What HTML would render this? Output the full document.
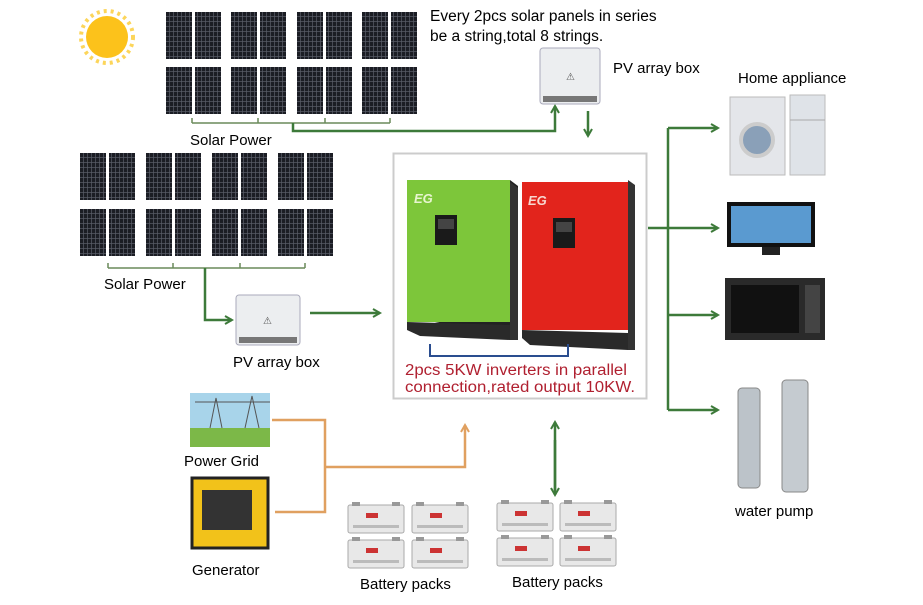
<!DOCTYPE html>
<html><head><meta charset="utf-8"><style>
body{margin:0;background:#fff}
svg{display:block}
text{font-family:"Liberation Sans",sans-serif}
</style></head><body>
<svg width="923" height="605" viewBox="0 0 923 605" xmlns="http://www.w3.org/2000/svg">
<defs>
<pattern id="cell" width="4" height="5" patternUnits="userSpaceOnUse">
<rect width="4" height="5" fill="#1b1d24"/><rect x="3.3" width="0.7" height="5" fill="#5a5e68"/><rect y="4.3" width="4" height="0.7" fill="#5a5e68"/>
</pattern>
<marker id="ag" markerWidth="10" markerHeight="10" refX="8" refY="5" orient="auto" markerUnits="userSpaceOnUse"><path d="M1,1 L8,5 L1,9" fill="none" stroke="#3d7a3a" stroke-width="2"/></marker>
<marker id="ao" markerWidth="10" markerHeight="10" refX="8" refY="5" orient="auto" markerUnits="userSpaceOnUse"><path d="M1,1 L8,5 L1,9" fill="none" stroke="#e0a060" stroke-width="2"/></marker>
<g id="pg"><rect width="26" height="47" fill="url(#cell)"/><rect x="29" width="26" height="47" fill="url(#cell)"/></g>
<g id="bat"><rect width="56" height="28" rx="2" fill="#e8e8e8" stroke="#aaa"/><rect x="4" y="-3" width="8" height="4" fill="#999"/><rect x="44" y="-3" width="8" height="4" fill="#999"/><rect x="18" y="8" width="12" height="5" fill="#c33"/><rect x="5" y="20" width="46" height="3" fill="#bbb"/></g>
</defs>

<circle cx="107" cy="37" r="21" fill="#fcc21b"/>
<circle cx="107" cy="37" r="26" fill="none" stroke="#fcd55a" stroke-width="4" stroke-dasharray="3 4"/>

<use href="#pg" x="166" y="12"/><use href="#pg" x="231" y="12"/><use href="#pg" x="297" y="12"/><use href="#pg" x="362" y="12"/>
<use href="#pg" x="166" y="67"/><use href="#pg" x="231" y="67"/><use href="#pg" x="297" y="67"/><use href="#pg" x="362" y="67"/>
<path d="M192,123 H390 M192,118 V123 M258,118 V123 M325,118 V123 M390,118 V123" stroke="#6a8a5a" stroke-width="1.5" fill="none"/>
<path d="M293,123 V131 H555 V106" stroke="#3d7a3a" stroke-width="2.5" fill="none" marker-end="url(#ag)"/>
<text x="190" y="145" font-size="15">Solar Power</text>

<use href="#pg" x="80" y="153"/><use href="#pg" x="146" y="153"/><use href="#pg" x="212" y="153"/><use href="#pg" x="278" y="153"/>
<use href="#pg" x="80" y="209"/><use href="#pg" x="146" y="209"/><use href="#pg" x="212" y="209"/><use href="#pg" x="278" y="209"/>
<path d="M108,268 H305 M108,263 V268 M173,263 V268 M240,263 V268 M305,263 V268" stroke="#6a8a5a" stroke-width="1.5" fill="none"/>
<text x="104" y="289" font-size="15">Solar Power</text>
<path d="M205,268 V320 H232" stroke="#3d7a3a" stroke-width="2.5" fill="none" marker-end="url(#ag)"/>

<text x="430" y="21" font-size="15.5">Every  2pcs solar panels in series</text>
<text x="430" y="41" font-size="15.5">be a string,total 8 strings.</text>

<rect x="540" y="48" width="60" height="56" rx="3" fill="#eceef0" stroke="#aab" />
<rect x="543" y="96" width="54" height="6" fill="#777"/>
<text x="566" y="80" font-size="10" fill="#555">⚠</text>
<text x="613" y="73" font-size="15">PV array box</text>
<path d="M588,111 V136" stroke="#3d7a3a" stroke-width="2.5" marker-end="url(#ag)"/>

<rect x="236" y="295" width="64" height="50" rx="3" fill="#eceef0" stroke="#aab"/>
<rect x="239" y="337" width="58" height="6" fill="#777"/>
<text x="263" y="324" font-size="10" fill="#555">⚠</text>
<text x="233" y="367" font-size="15">PV array box</text>
<path d="M310,313 H380" stroke="#3d7a3a" stroke-width="2.5" marker-end="url(#ag)"/>

<rect x="393.5" y="153.5" width="253" height="245" fill="#fff" stroke="#ccc" stroke-width="2"/>
<polygon points="407,180 510,180 518,186 518,340 407,316" fill="#222"/>
<rect x="407" y="180" width="103" height="142" fill="#7dc63a"/>
<polygon points="510,182 518,188 518,340 510,340" fill="#333"/>
<polygon points="407,322 510,325 510,340 420,336 407,330" fill="#2a2a2a"/>
<rect x="435" y="215" width="22" height="30" fill="#1a1a1a"/><rect x="438" y="219" width="16" height="10" fill="#444"/>
<text x="414" y="203" font-size="13" fill="#e8f5d0" font-weight="bold" font-style="italic">EG</text>
<rect x="522" y="182" width="106" height="148" fill="#e2241c"/>
<polygon points="628,180 635,185 635,350 628,350" fill="#333"/>
<polygon points="522,330 628,333 628,350 530,345 522,338" fill="#2a2a2a"/>
<rect x="553" y="218" width="22" height="30" fill="#1a1a1a"/><rect x="556" y="222" width="16" height="10" fill="#444"/>
<text x="528" y="205" font-size="13" fill="#f8d8d0" font-weight="bold" font-style="italic">EG</text>
<path d="M430,344 V356 H568 V344" stroke="#2a4d8f" stroke-width="2" fill="none"/>
<text x="405" y="375" font-size="15.5" fill="#b02030" textLength="222" lengthAdjust="spacingAndGlyphs">2pcs 5KW inverters in parallel</text>
<text x="405" y="392" font-size="15.5" fill="#b02030" textLength="230" lengthAdjust="spacingAndGlyphs">connection,rated output 10KW.</text>

<path d="M648,228 H668 M668,128 V410" stroke="#3d7a3a" stroke-width="2.5" fill="none"/>
<path d="M668,128 H718" stroke="#3d7a3a" stroke-width="2.5" marker-end="url(#ag)"/>
<path d="M668,228 H718" stroke="#3d7a3a" stroke-width="2.5" marker-end="url(#ag)"/>
<path d="M668,315 H718" stroke="#3d7a3a" stroke-width="2.5" marker-end="url(#ag)"/>
<path d="M668,410 H718" stroke="#3d7a3a" stroke-width="2.5" marker-end="url(#ag)"/>

<text x="738" y="83" font-size="15">Home appliance</text>
<rect x="730" y="97" width="55" height="78" fill="#e4e6ea" stroke="#bbb"/>
<circle cx="757" cy="140" r="16" fill="#8aa0b8" stroke="#ccc" stroke-width="4"/>
<rect x="790" y="95" width="35" height="80" fill="#dfe3e8" stroke="#bbb"/>
<line x1="790" y1="120" x2="825" y2="120" stroke="#aaa"/>
<rect x="727" y="202" width="88" height="45" fill="#111"/><rect x="731" y="206" width="80" height="37" fill="#5a9ad0"/>
<rect x="762" y="247" width="18" height="8" fill="#222"/>
<rect x="725" y="278" width="100" height="62" fill="#2a2a2a"/><rect x="731" y="285" width="68" height="48" fill="#111"/>
<rect x="805" y="285" width="15" height="48" fill="#444"/>
<rect x="738" y="388" width="22" height="100" rx="4" fill="#bcc3c9" stroke="#888"/>
<rect x="782" y="380" width="26" height="112" rx="4" fill="#c5cbd0" stroke="#888"/>
<text x="735" y="516" font-size="15">water pump</text>

<rect x="190" y="393" width="80" height="54" fill="#a8d4ea"/>
<rect x="190" y="428" width="80" height="19" fill="#7cb848"/>
<path d="M210,428 L216,398 L222,428 M245,428 L252,396 L259,428 M195,402 H270" stroke="#555" fill="none"/>
<text x="184" y="466" font-size="15">Power Grid</text>
<rect x="192" y="478" width="76" height="70" fill="#f2c21a" stroke="#222" stroke-width="3"/>
<rect x="202" y="490" width="50" height="40" fill="#333"/>
<text x="192" y="575" font-size="15">Generator</text>
<path d="M272,420 H325 V512 H275" stroke="#e0a060" stroke-width="2.5" fill="none"/>
<path d="M325,467 H465 V425" stroke="#e0a060" stroke-width="2.5" fill="none" marker-end="url(#ao)"/>

<path d="M555,490 V422" stroke="#3d7a3a" stroke-width="2.5" marker-end="url(#ag)"/>
<path d="M555,440 V495" stroke="#3d7a3a" stroke-width="2.5" marker-end="url(#ag)"/>
<use href="#bat" x="348" y="505"/><use href="#bat" x="412" y="505"/>
<use href="#bat" x="348" y="540"/><use href="#bat" x="412" y="540"/>
<use href="#bat" x="497" y="503"/><use href="#bat" x="560" y="503"/>
<use href="#bat" x="497" y="538"/><use href="#bat" x="560" y="538"/>
<text x="360" y="589" font-size="15">Battery packs</text>
<text x="512" y="587" font-size="15">Battery packs</text>
</svg>
</body></html>
